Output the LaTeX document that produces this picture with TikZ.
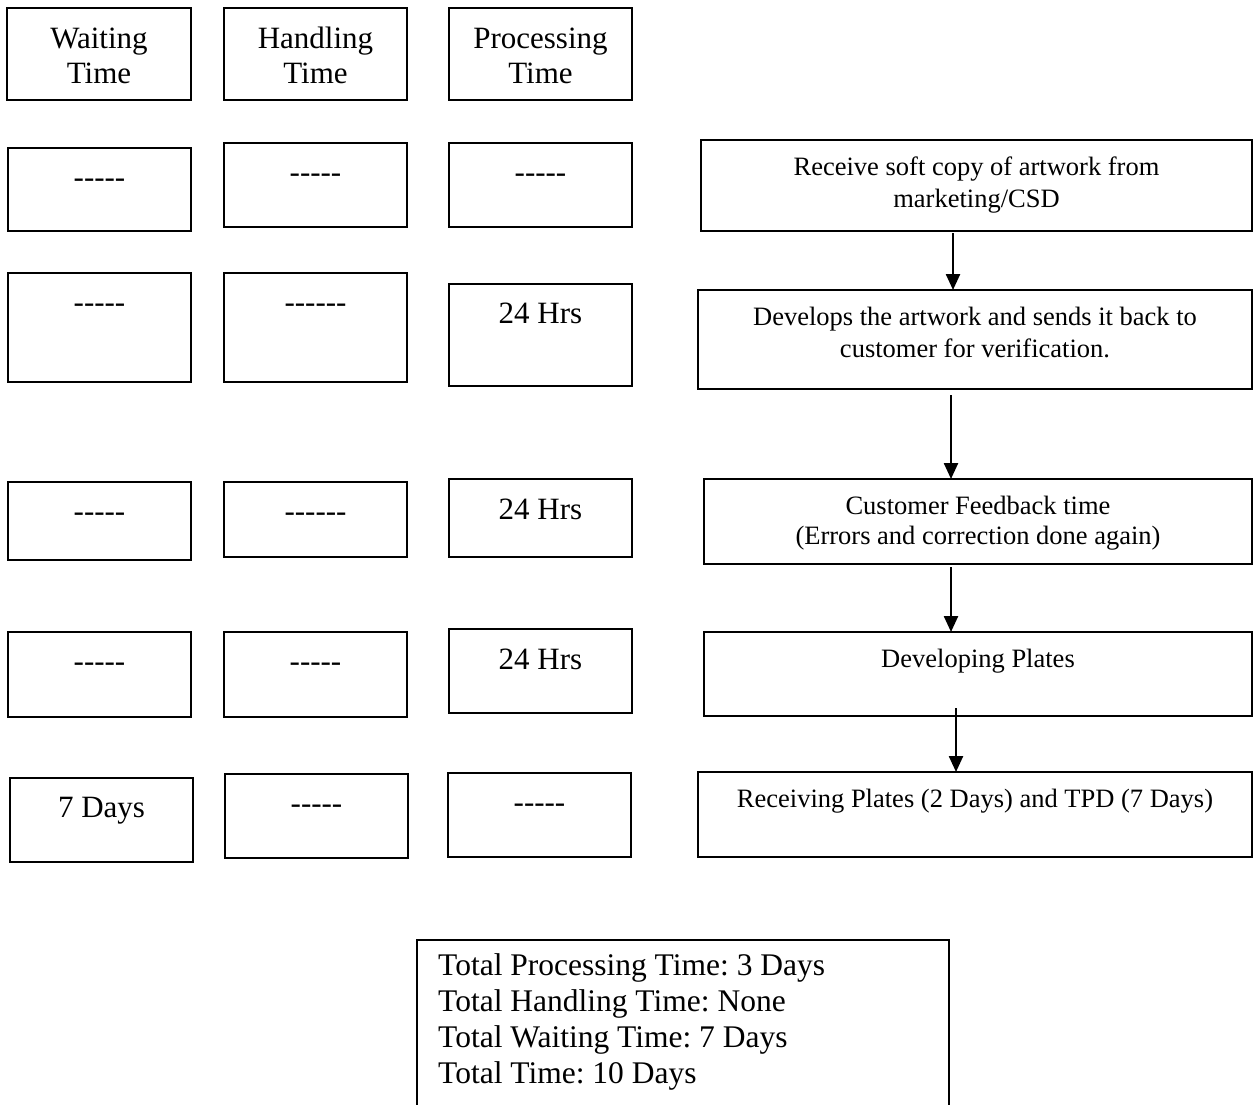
\documentclass[tikz,border=0pt]{standalone}
\usepackage{fontspec}
\setmainfont{Liberation Serif}
\usetikzlibrary{calc,arrows.meta}
\frenchspacing

% one unit = 1pt, y grows downwards
\tikzset{
  headbox/.style={draw, line width=2.4pt, inner sep=0pt, outer sep=0pt},
  databox/.style={draw, line width=1.5pt, inner sep=0pt, outer sep=0pt},
  stagebox/.style={draw, line width=2pt, inner sep=0pt, outer sep=0pt},
  sumbox/.style={draw, line width=1.8pt, inner sep=0pt, outer sep=0pt},
  celltext/.style={inner sep=0pt, anchor=base, font=\fontsize{31}{35}\selectfont},
  stagetext/.style={inner sep=0pt, anchor=base, font=\fontsize{26.5}{32}\selectfont},
  sumtext/.style={inner sep=0pt, anchor=base west, font=\fontsize{31.5}{36}\selectfont},
  flow/.style={line width=2.4pt, -{Triangle[length=16pt,width=14pt]}},
}

% rectangle node from its top-left and bottom-right corners
\newcommand\boxat[6]{%
  \node[#1, minimum width={(#5-#3)*1pt}, minimum height={(#6-#4)*1pt},
        anchor=north west] (#2) at (#3,#4) {};}
\newcommand\dfive{-{}-{}-{}-{}-}
\newcommand\dsix{-{}-{}-{}-{}-{}-}
\newcommand\twolines[2]{\begin{tabular}[t]{@{}c@{}}#1\\#2\end{tabular}}

\begin{document}
\begin{tikzpicture}[x=1pt, y=-1pt]
\useasboundingbox (0,0) rectangle (1253,1104);

% column headers
\boxat{headbox}{hw}{7}{8}{191}{100}
\boxat{headbox}{hh}{224}{8}{407}{100}
\boxat{headbox}{hp}{449}{8}{632}{100}
\node[celltext] (hwt) at ($(hw.north)+(0,40)$) {\twolines{Waiting}{Time}};
\node[celltext] (hht) at ($(hh.north)+(0,40)$) {\twolines{Handling}{Time}};
\node[celltext] (hpt) at ($(hp.north)+(0,40)$) {\twolines{Processing}{Time}};

% row 1
\boxat{databox}{w1}{8}{148}{191}{231}
\boxat{databox}{h1}{224}{143}{407}{227}
\boxat{databox}{p1}{449}{143}{632}{227}
\node[celltext] (w1t) at ($(w1.north)+(0,39)$) {\dfive};
\node[celltext] (h1t) at ($(h1.north)+(0,39)$) {\dfive};
\node[celltext] (p1t) at ($(p1.north)+(0,39)$) {\dfive};

% row 2
\boxat{databox}{w2}{8}{273}{191}{382}
\boxat{databox}{h2}{224}{273}{407}{382}
\boxat{databox}{p2}{449}{284}{632}{386}
\node[celltext] (w2t) at ($(w2.north)+(0,39)$) {\dfive};
\node[celltext] (h2t) at ($(h2.north)+(0,39)$) {\dsix};
\node[celltext] (p2t) at ($(p2.north)+(0,39)$) {24 Hrs};

% row 3
\boxat{databox}{w3}{8}{482}{191}{560}
\boxat{databox}{h3}{224}{482}{407}{557}
\boxat{databox}{p3}{449}{479}{632}{557}
\node[celltext] (w3t) at ($(w3.north)+(0,39)$) {\dfive};
\node[celltext] (h3t) at ($(h3.north)+(0,39)$) {\dsix};
\node[celltext] (p3t) at ($(p3.north)+(0,40)$) {24 Hrs};

% row 4
\boxat{databox}{w4}{8}{632}{191}{717}
\boxat{databox}{h4}{224}{632}{407}{717}
\boxat{databox}{p4}{449}{629}{632}{713}
\node[celltext] (w4t) at ($(w4.north)+(0,39)$) {\dfive};
\node[celltext] (h4t) at ($(h4.north)+(0,39)$) {\dfive};
\node[celltext] (p4t) at ($(p4.north)+(0,40)$) {24 Hrs};

% row 5
\boxat{databox}{w5}{10}{778}{193}{862}
\boxat{databox}{h5}{225}{774}{408}{858}
\boxat{databox}{p5}{448}{773}{631}{857}
\node[celltext] (w5t) at ($(w5.north)+(0,39)$) {7 Days};
\node[celltext] (h5t) at ($(h5.north)+(0,39)$) {\dfive};
\node[celltext] (p5t) at ($(p5.north)+(0,39)$) {\dfive};

% process stages
\boxat{stagebox}{r1}{701}{140}{1252}{231}
\boxat{stagebox}{r2}{698}{290}{1252}{389}
\boxat{stagebox}{r3}{704}{479}{1252}{564}
\boxat{stagebox}{r4}{704}{632}{1252}{716}
\boxat{stagebox}{r5}{698}{772}{1252}{857}
\node[stagetext] (r1t) at ($(r1.north)+(0,35)$) {\twolines{Receive soft copy of artwork from}{marketing/CSD}};
\node[stagetext] (r2t) at ($(r2.north)+(0,35)$) {\twolines{Develops the artwork and sends it back to}{customer for verification.}};
\node[stagetext, font=\fontsize{26.5}{30}\selectfont] (r3t) at ($(r3.north)+(0,35)$) {\twolines{Customer Feedback time}{(Errors and correction done again)}};
\node[stagetext] (r4t) at ($(r4.north)+(0,35)$) {Developing Plates};
\node[stagetext] (r5t) at ($(r5.north)+(0,35)$) {Receiving Plates (2 Days) and TPD (7 Days)};

% flow between stages
\coordinate (ax1) at (953,0);
\coordinate (ax2) at (951,0);
\coordinate (ax3) at (951,0);
\coordinate (ax4) at (956,0);
\draw[flow] ($(ax1 |- r1.south)+(0,2)$) -- (ax1 |- r2.north);
\draw[flow] ($(ax2 |- r2.south)+(0,6)$) -- (ax2 |- r3.north);
\draw[flow] ($(ax3 |- r3.south)+(0,3)$) -- (ax3 |- r4.north);
\draw[flow] ($(ax4 |- r4.south)+(0,-8)$) -- (ax4 |- r5.north);

% totals (the box runs on past the lower edge of the page)
\boxat{sumbox}{sum}{417}{940}{949}{1115}
\node[sumtext] (sumt) at ($(sum.north west)+(21,35)$)
  {\begin{tabular}[t]{@{}l@{}}Total Processing Time: 3 Days\\
   Total Handling Time: None\\
   Total Waiting Time: 7 Days\\
   Total Time: 10 Days\end{tabular}};
\end{tikzpicture}
\end{document}
